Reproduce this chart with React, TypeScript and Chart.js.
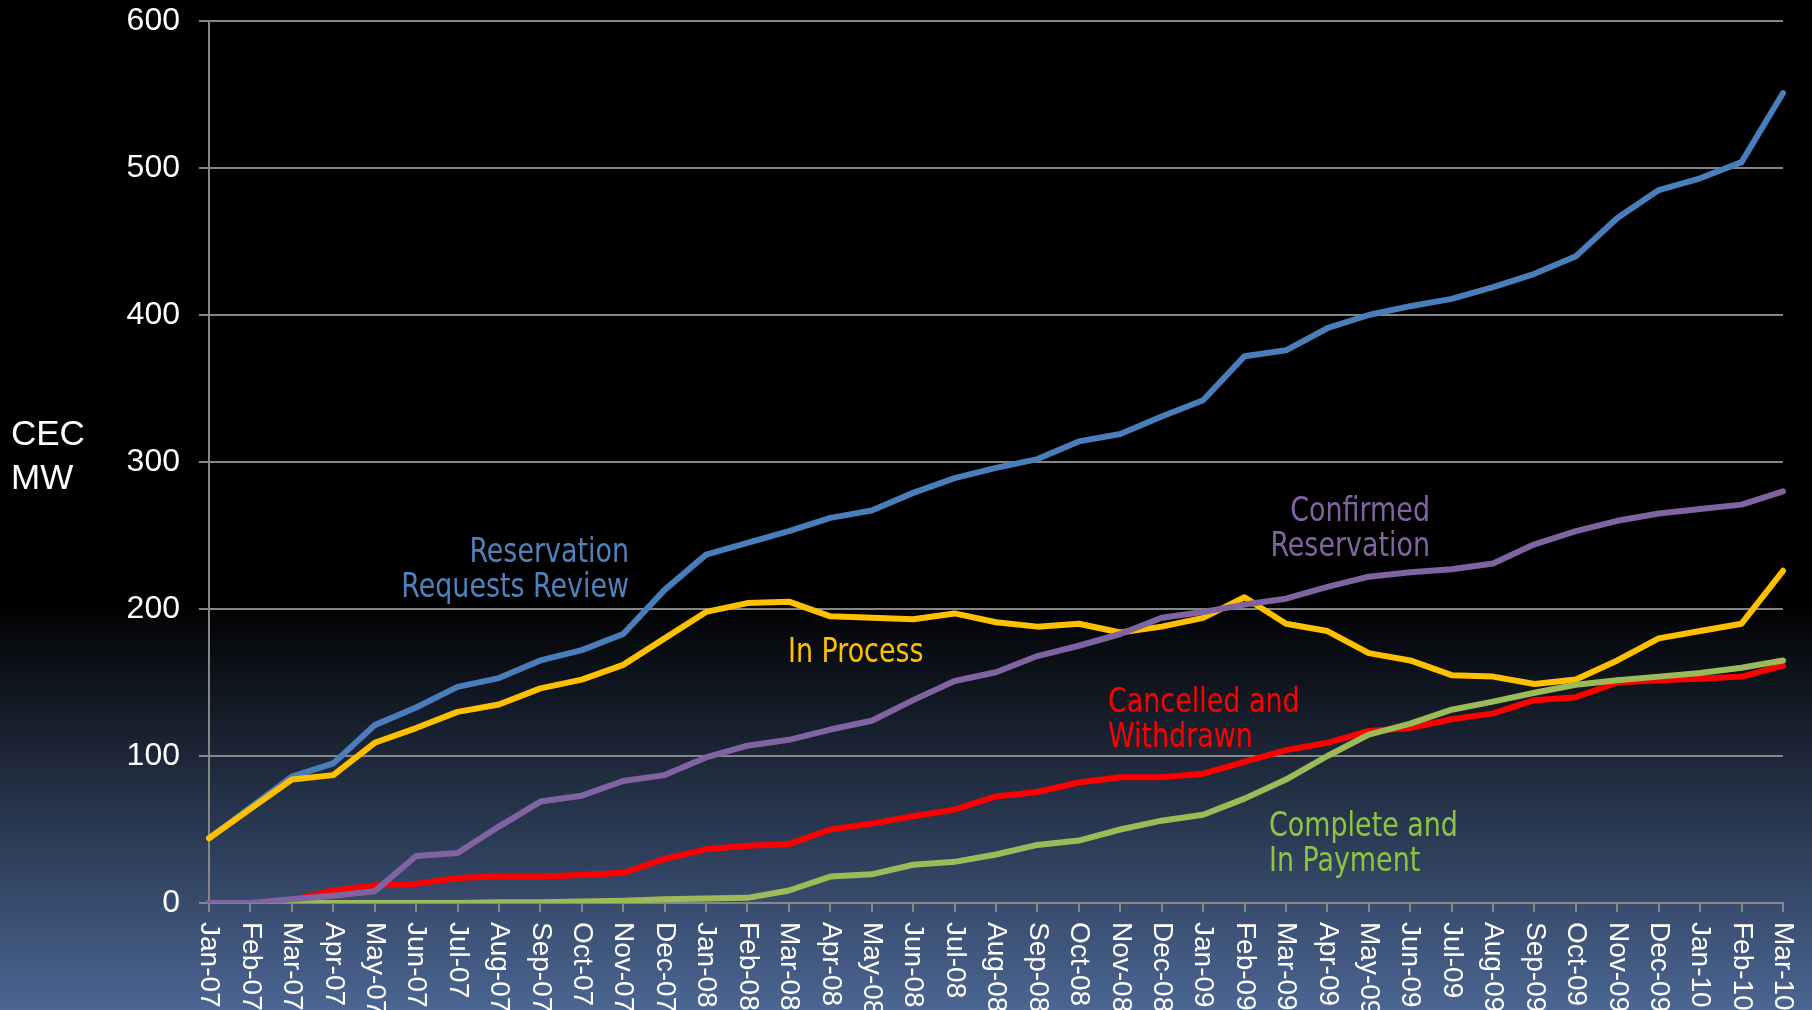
import React, { useEffect, useRef } from "react";
import { Chart, registerables } from "chart.js";

Chart.register(...registerables);

const months = [
  "Jan-07", "Feb-07", "Mar-07", "Apr-07", "May-07", "Jun-07", "Jul-07", "Aug-07", "Sep-07", "Oct-07", "Nov-07", "Dec-07",
  "Jan-08", "Feb-08", "Mar-08", "Apr-08", "May-08", "Jun-08", "Jul-08", "Aug-08", "Sep-08", "Oct-08", "Nov-08", "Dec-08",
  "Jan-09", "Feb-09", "Mar-09", "Apr-09", "May-09", "Jun-09", "Jul-09", "Aug-09", "Sep-09", "Oct-09", "Nov-09", "Dec-09",
  "Jan-10", "Feb-10", "Mar-10",
];

const reservationRequestsReview = [
  44, 65, 86, 95, 121, 133, 147, 153, 165, 172, 183, 213,
  237, 245, 253, 262, 267, 279, 289, 296, 302, 314, 319, 331,
  342, 372, 376, 391, 400, 406, 411, 419, 428, 440, 466, 485,
  493, 504, 551,
];

const inProcess = [
  44, 64, 84, 87, 109, 119, 130, 135, 146, 152, 162, 180,
  198, 204, 205, 195, 194, 193, 197, 191, 188, 190, 184, 188,
  194, 208, 190, 185, 170, 165, 155, 154, 149, 152, 165, 180,
  185, 190, 226,
];

const confirmedReservation = [
  0, 0, 2.5, 5, 8, 32, 34, 52, 69, 73, 83, 87,
  99, 107, 111, 118, 124, 138, 151, 157, 168, 175, 183, 194,
  198, 203, 207, 215, 222, 225, 227, 231, 244, 253, 260, 265,
  268, 271, 280,
];

const cancelledWithdrawn = [
  0, 0, 2, 8.5, 12, 13, 17, 18, 18, 19, 20.5, 30,
  36.5, 39, 40, 50, 54, 59, 63.5, 72.5, 75.5, 82, 85.5, 85.5,
  88, 96, 104, 109, 117, 119, 125, 129, 138, 140, 150, 151.5,
  152.5, 154, 161.5,
];

const completeInPayment = [
  0, 0, 0, 0, 0, 0, 0, 0.5, 0.5, 1, 1.5, 2.5,
  3, 3.5, 8.5, 18, 19.5, 26, 28, 33, 39.5, 42.5, 50, 56,
  60, 71, 84, 100, 114.5, 122, 131.5, 137, 143, 148.5, 151.5, 154,
  156.5, 160, 165,
];

const yMin = 0;
const yMax = 600;
const yStep = 100;

const axisTitleLines = ["CEC", "MW"];

const BASE_FONT = '"Liberation Sans", Arial, sans-serif';
const NARROW_FONT = '"Liberation Sans Narrow", "DejaVu Sans Condensed", "Liberation Sans", sans-serif';
const GRID = "#868686";

export default function App() {
  const ref = useRef<HTMLCanvasElement>(null);

  useEffect(() => {
    document.body.style.margin = "0";
    const canvas = ref.current;
    if (!canvas) return;

    const textPlugin = {
      id: "customText",
      afterDraw(chart: any) {
        const ctx = chart.ctx as CanvasRenderingContext2D;
        const xs = chart.scales.x;
        const area = chart.chartArea;
        ctx.save();
        // rotated month labels
        ctx.fillStyle = "#ffffff";
        ctx.font = `28px ${BASE_FONT}`;
        ctx.textAlign = "left";
        ctx.textBaseline = "middle";
        months.forEach((m, i) => {
          const px = xs.getPixelForTick(i);
          ctx.save();
          ctx.translate(px, area.bottom + 19);
          ctx.rotate(Math.PI / 2);
          ctx.fillText(m, 0, 0);
          ctx.restore();
        });

        // axis title
        ctx.font = `35px ${BASE_FONT}`;
        ctx.textAlign = "left";
        ctx.fillText(axisTitleLines[0], 11, 435);
        ctx.fillText(axisTitleLines[1], 11, 479);

        // series annotations (condensed look)
        ctx.font = `34px ${NARROW_FONT}`;
        const sx = 0.88;
        const put = (lines: string[], color: string, x: number, y: number, align: CanvasTextAlign) => {
          ctx.save();
          ctx.fillStyle = color;
          ctx.textAlign = align;
          ctx.translate(x, y);
          ctx.scale(sx, 1);
          lines.forEach((l, k) => ctx.fillText(l, 0, k * 35));
          ctx.restore();
        };
        put(["Reservation", "Requests Review"], "#4F81BD", 629, 553, "right");
        put(["In Process"], "#FFC000", 788, 653, "left");
        put(["Confirmed", "Reservation"], "#8064A2", 1430, 512, "right");
        put(["Cancelled and", "Withdrawn"], "#FF0000", 1108, 703, "left");
        put(["Complete and", "In Payment"], "#8CC63F", 1269, 827, "left");
        ctx.restore();
      },
    };

    const common = {
      fill: false,
      pointRadius: 0,
      pointHoverRadius: 0,
      borderWidth: 6,
      tension: 0,
      borderCapStyle: "round" as const,
      borderJoinStyle: "round" as const,
    };

    const chart = new Chart(canvas, {
      type: "line",
      data: {
        labels: months,
        datasets: [
          { ...common, label: "Reservation Requests Review", data: reservationRequestsReview, borderColor: "#4A7EBB", order: 4 },
          { ...common, label: "In Process", data: inProcess, borderColor: "#FFC000", order: 3 },
          { ...common, label: "Cancelled and Withdrawn", data: cancelledWithdrawn, borderColor: "#FF0000", order: 2 },
          { ...common, label: "Complete and In Payment", data: completeInPayment, borderColor: "#9BBB59", order: 1 },
          { ...common, label: "Confirmed Reservation", data: confirmedReservation, borderColor: "#8064A2", order: 0 },
        ],
      },
      options: {
        animation: false,
        responsive: false,
        devicePixelRatio: 1,
        events: [],
        layout: { padding: { top: 21, right: 29, left: 0, bottom: 0 } },
        plugins: {
          legend: { display: false },
          tooltip: { enabled: false },
          title: { display: false },
        },
        scales: {
          x: {
            type: "category",
            offset: false,
            grid: {
              display: true,
              drawOnChartArea: false,
              drawTicks: true,
              tickLength: 9,
              color: GRID,
              lineWidth: 2,
            },
            border: { display: true, color: GRID, width: 2 },
            ticks: { display: false, autoSkip: false },
            afterFit: (scale: any) => {
              scale.height = 107;
              scale.paddingLeft = 0;
              scale.paddingRight = 0;
            },
          },
          y: {
            min: yMin,
            max: yMax,
            grid: {
              color: GRID,
              lineWidth: 2,
              drawTicks: true,
              tickLength: 10,
            },
            border: { display: true, color: GRID, width: 2 },
            ticks: {
              stepSize: yStep,
              color: "#ffffff",
              padding: 19,
              font: { size: 32, family: BASE_FONT },
            },
            afterFit: (scale: any) => {
              scale.width = 209;
              scale.paddingTop = 0;
              scale.paddingBottom = 0;
            },
          },
        },
      },
      plugins: [textPlugin],
    } as any);

    return () => chart.destroy();
  }, []);

  return (
    <div
      style={{
        position: "absolute",
        left: 0,
        top: 0,
        width: 1812,
        height: 1010,
        overflow: "hidden",
        background: "linear-gradient(to bottom, #000000 0px, #000000 600px, #4b6693 1010px)",
      }}
    >
      <canvas ref={ref} width={1812} height={1010} style={{ display: "block" }} />
    </div>
  );
}
